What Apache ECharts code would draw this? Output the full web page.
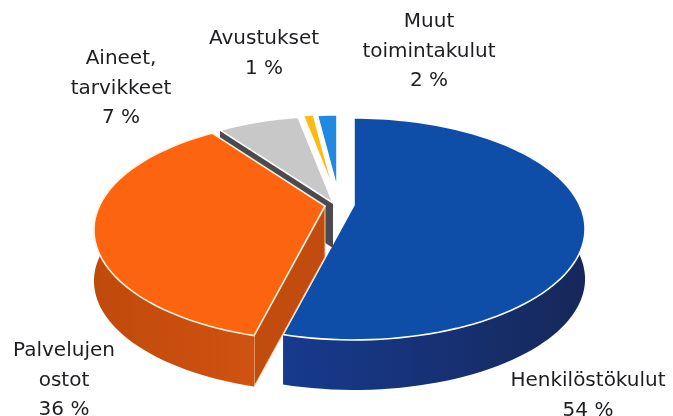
<!DOCTYPE html>
<html>
<head>
<meta charset="utf-8">
<style>html,body{margin:0;padding:0;background:#fff}#c{width:673px;height:416px}</style>
<script src="https://cdn.jsdelivr.net/npm/echarts@6/dist/echarts.min.js"></script>
</head>
<body>
<div id="c"></div>
<script>
const categories = ['Henkilöstökulut', 'Palvelujen\nostot', 'Aineet,\ntarvikkeet', 'Avustukset', 'Muut\ntoimintakulut'];
const values = [54, 36, 7, 1, 2];

// Layout and styling (per slice, same order as the data)
const CX = 354, CY = 205, RX = 225.6, RY = 105.8, K = 0.216;
const explode = [[0, 0, 1], [-29, 1, 1], [-21, -2, 1], [-20, -14, 0.88], [-17, -17, 0.84]];
const depth = [50, 51, 45, 0, 0];
const topColor = ['#0e4ea8', '#fd6410', '#c8c8c8', '#fcbb14', '#1f8ae0'];
const stroke = ['#ffffff', '#fff0dc', '#ffffff', '#ffffff', '#ffffff'];
const faceColor = ['#17398a', '#c24c0e', '#4a4a50', '#fcbb14', '#1f8ae0'];
const wallFrom = ['#173a8e', '#cf5210', '#4a4a50', '#fcbb14', '#1f8ae0'];
const wallTo = ['#16285a', '#c04a0c', '#4a4a50', '#fcbb14', '#1f8ae0'];
const paintRank = [2, 4, 3, 0, 1];
const labelPos = [[588, 381], [64, 351], [121, 59], [264, 39], [429, 22]];
const labelLine = 29.5;

const total = values.reduce((a, b) => a + b, 0);
function project(deg, r, i) {
  const t = deg * Math.PI / 180;
  const X = r * Math.sin(t), Y = r * Math.cos(t);
  const w = 1 + K * Y;
  const e = explode[i];
  return [CX + RX * X / w * e[2] + e[0], CY - RY * Y / w * e[2] + e[1]];
}

function renderItem(params, api) {
  const i = params.dataIndex;
  let before = 0;
  for (let k = 0; k < i; k++) before += values[k];
  const a0 = before / total * 360;
  const a1 = (before + api.value(0)) / total * 360;
  const apex = project(0, 0, i);
  const arc = [];
  const steps = Math.max(4, Math.ceil((a1 - a0) / 2));
  for (let s = 0; s <= steps; s++) arc.push(project(a0 + (a1 - a0) * s / steps, 1, i));
  const d = depth[i];
  const down = p => [p[0], p[1] + d];
  const rank = paintRank[i] * 10;
  const children = [];
  if (d > 0) {
    const xs = arc.map(p => p[0]);
    const x0 = Math.min(...xs), x1 = Math.max(...xs);
    children.push({
      type: 'polygon', z2: rank + 1,
      shape: { points: [apex, arc[0], down(arc[0]), down(apex)] },
      style: { fill: faceColor[i], stroke: i === 1 ? '#f3c8a8' : null, lineWidth: i === 1 ? 1 : 0 }
    });
    children.push({
      type: 'polygon', z2: rank + 2,
      shape: { points: arc.concat(arc.slice().reverse().map(down)) },
      style: {
        fill: new echarts.graphic.LinearGradient(x0, 0, x1, 0, [
          { offset: 0, color: i === 1 ? wallTo[i] : wallFrom[i] },
          { offset: 1, color: i === 1 ? wallFrom[i] : wallTo[i] }
        ], true),
        stroke: null
      }
    });
  }
  children.push({
    type: 'polygon', z2: rank + 3,
    shape: { points: [apex].concat(arc) },
    style: { fill: topColor[i], stroke: stroke[i], lineWidth: 1.6, lineJoin: 'miter' }
  });
  const lines = (api.value(1) + '\n' + api.value(0) + ' %').split('\n');
  lines.forEach((line, n) => {
    children.push({
      type: 'text', z2: 200,
      style: {
        text: line,
        x: labelPos[i][0],
        y: labelPos[i][1] + n * labelLine,
        align: 'center',
        verticalAlign: 'middle',
        fill: '#1e1e22',
        font: '20px "DejaVu Sans", sans-serif'
      }
    });
  });
  return { type: 'group', children: children };
}

const chart = echarts.init(document.getElementById('c'), null, { renderer: 'canvas' });
chart.setOption({
  animation: false,
  backgroundColor: '#ffffff',
  series: [{
    type: 'custom',
    coordinateSystem: 'none',
    renderItem: renderItem,
    dimensions: ['value', 'name'],
    encode: { value: 0 },
    data: values.map((v, i) => [v, categories[i]])
  }]
});
</script>
</body>
</html>
